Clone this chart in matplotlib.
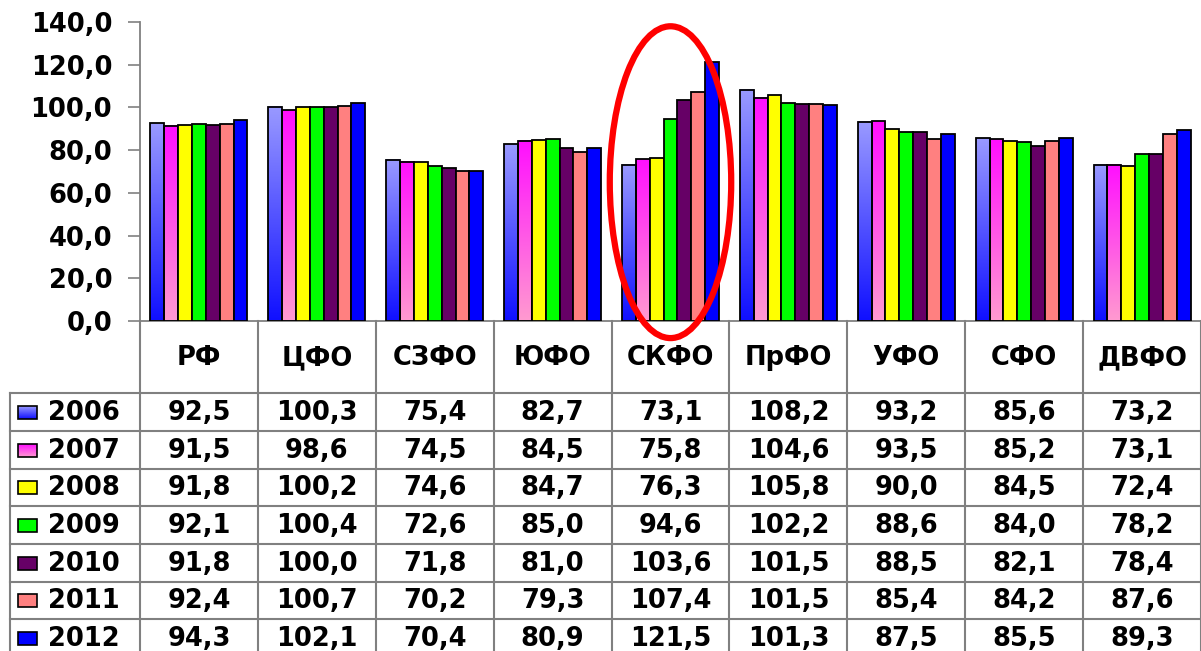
import numpy as np
import matplotlib
matplotlib.use("Agg")
import matplotlib.pyplot as plt
from matplotlib.colors import LinearSegmentedColormap
from matplotlib.patches import Ellipse, Rectangle

# data
regions = ["РФ", "ЦФО", "СЗФО", "ЮФО", "СКФО", "ПрФО", "УФО", "СФО", "ДВФО"]
years = ["2006", "2007", "2008", "2009", "2010", "2011", "2012"]
v2006 = [92.5, 100.3, 75.4, 82.7, 73.1, 108.2, 93.2, 85.6, 73.2]
v2007 = [91.5, 98.6, 74.5, 84.5, 75.8, 104.6, 93.5, 85.2, 73.1]
v2008 = [91.8, 100.2, 74.6, 84.7, 76.3, 105.8, 90.0, 84.5, 72.4]
v2009 = [92.1, 100.4, 72.6, 85.0, 94.6, 102.2, 88.6, 84.0, 78.2]
v2010 = [91.8, 100.0, 71.8, 81.0, 103.6, 101.5, 88.5, 82.1, 78.4]
v2011 = [92.4, 100.7, 70.2, 79.3, 107.4, 101.5, 85.4, 84.2, 87.6]
v2012 = [94.3, 102.1, 70.4, 80.9, 121.5, 101.3, 87.5, 85.5, 89.3]
series = [v2006, v2007, v2008, v2009, v2010, v2011, v2012]

# fill per series: (top colour, bottom colour)
fills = [("#9999ff", "#1010ff"), ("#ff10ff", "#ff9ad0"), ("#ffff00", "#ffff00"),
         ("#00ff00", "#00ff00"), ("#660066", "#660066"), ("#ff8080", "#ff8080"),
         ("#0000ff", "#0000ff")]

W, H = 1201, 651
FONT = "DejaVu Sans"
FS = 18.5
GRID = "#808080"

fig = plt.figure(figsize=(W / 100, H / 100), dpi=100)
fig.patch.set_facecolor("white")

x_axis_px = 321
left_px = 140
ax = fig.add_axes([left_px / W, 1 - x_axis_px / H, 1 - left_px / W, (x_axis_px - 22) / H])

n = len(regions)
x = np.arange(n)
bw = 0.1176
for j, vals in enumerate(series):
    top, bottom = fills[j]
    xs = x + (j - 3) * bw
    if top != bottom:
        cmap = LinearSegmentedColormap.from_list("g%d" % j, [bottom, top])
        for xi, v in zip(xs, vals):
            grad = np.linspace(0, 1, 100).reshape(-1, 1)
            ax.imshow(grad, extent=[xi - bw / 2, xi + bw / 2, 0, v], origin="lower",
                      aspect="auto", cmap=cmap, zorder=2, interpolation="bilinear")
        ax.bar(xs, vals, bw, facecolor="none", edgecolor="black", linewidth=1.3, zorder=3)
    else:
        ax.bar(xs, vals, bw, color=top, edgecolor="black", linewidth=1.3, zorder=3)

ax.set_xlim(-0.5, n - 0.5)
ax.set_ylim(0, 140)
ax.set_yticks(np.arange(0, 141, 20))
ax.set_yticklabels(["%d,0" % t for t in range(0, 141, 20)], fontsize=FS,
                   fontweight="bold", family=FONT)
ax.tick_params(axis="y", length=9, width=1.2, color=GRID, pad=11)
ax.set_xticks([])
for s in ["top", "right"]:
    ax.spines[s].set_visible(False)
for s in ["left", "bottom"]:
    ax.spines[s].set_color(GRID)
    ax.spines[s].set_linewidth(1.3)

# red ellipse round the СКФО group
ax.add_patch(Ellipse((4, 65), 1.03, 146, fill=False, edgecolor="#ff0000",
                     linewidth=4.5, clip_on=False, zorder=5))

# data table underneath
tab = fig.add_axes([0, 0, 1, (H - x_axis_px) / H])
tab.set_xlim(0, W)
tab.set_ylim(H, x_axis_px)
tab.axis("off")

col_w = (W - left_px) / n
head_bottom = 393.3
row_h = 37.67
table_left = 10

for k in range(n + 1):
    xb = left_px + k * col_w
    tab.plot([xb, xb], [x_axis_px, H], color=GRID, lw=1.5, clip_on=False)
tab.plot([table_left, table_left], [head_bottom, H], color=GRID, lw=1.5)
for r in range(len(years)):
    yb = head_bottom + r * row_h
    tab.plot([table_left, W], [yb, yb], color=GRID, lw=1.5)

for i, name in enumerate(regions):
    tab.text(left_px + (i + 0.5) * col_w, (x_axis_px + head_bottom) / 2 + 1, name,
             ha="center", va="center", fontsize=FS, fontweight="bold", family=FONT)

for r, (yr, vals) in enumerate(zip(years, series)):
    yc = head_bottom + (r + 0.5) * row_h
    top, bottom = fills[r]
    if top != bottom:
        cmap = LinearSegmentedColormap.from_list("k%d" % r, [bottom, top])
        grad = np.linspace(0, 1, 50).reshape(-1, 1)
        tab.imshow(grad, extent=[18, 37, yc + 7, yc - 6], origin="lower",
                   aspect="auto", cmap=cmap, interpolation="bilinear")
        tab.add_patch(Rectangle((18, yc - 6), 19, 13, facecolor="none",
                                edgecolor="black", lw=1.2))
    else:
        tab.add_patch(Rectangle((18, yc - 6), 19, 13, facecolor=top,
                                edgecolor="black", lw=1.2))
    tab.text(48, yc + 1, yr, ha="left", va="center", fontsize=FS,
             fontweight="bold", family=FONT)
    for i, v in enumerate(vals):
        tab.text(left_px + (i + 0.5) * col_w, yc + 1, ("%.1f" % v).replace(".", ","),
                 ha="center", va="center", fontsize=FS, fontweight="bold", family=FONT)

tab.set_xlim(0, W)
tab.set_ylim(H, x_axis_px)

fig.savefig("out.png", dpi=100, facecolor="white")
